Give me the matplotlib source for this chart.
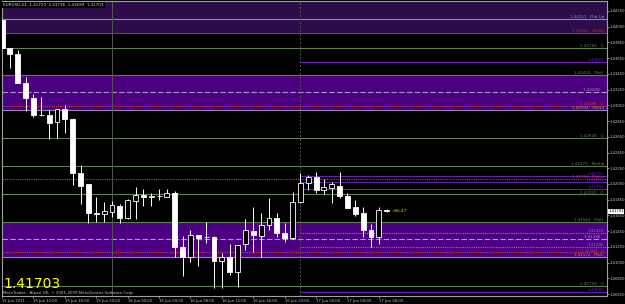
import numpy as np
import matplotlib
matplotlib.use('Agg')
import matplotlib.pyplot as plt

# EURUSD H1 candles, bar 0 = 15 Jun 08:00
opens  = [1.44135, 1.43779, 1.43703, 1.43332, 1.43139, 1.42931, 1.42927, 1.42834, 1.43000, 1.42876,
          1.42185, 1.42046, 1.41684, 1.41668, 1.41697, 1.41773, 1.41613, 1.41837, 1.41906, 1.41880,
          1.41897, 1.41888, 1.41931, 1.41252, 1.41124, 1.41397, 1.41372, 1.41372, 1.41074, 1.41117,
          1.40934, 1.41286, 1.41448, 1.41392, 1.41524, 1.41617, 1.41422, 1.41358, 1.41816, 1.42058,
          1.42134, 1.41973, 1.42003, 1.42024, 1.41901, 1.41753, 1.41676, 1.41464, 1.41379, 1.41720]
highs  = [1.44173, 1.43785, 1.43754, 1.43410, 1.43194, 1.43156, 1.42991, 1.43000, 1.43054, 1.42890,
          1.42287, 1.42050, 1.41888, 1.41824, 1.41832, 1.41795, 1.41858, 1.42015, 1.41982, 1.41931,
          1.41986, 1.41986, 1.41964, 1.41388, 1.41464, 1.41400, 1.41570, 1.41388, 1.41168, 1.41282,
          1.41277, 1.41604, 1.41760, 1.41676, 1.41867, 1.41676, 1.41549, 1.41951, 1.42185, 1.42164,
          1.42198, 1.42109, 1.42074, 1.42198, 1.41939, 1.41846, 1.41753, 1.41541, 1.41753, 1.41736]
lows   = [1.43753, 1.43525, 1.43328, 1.42978, 1.42901, 1.42914, 1.42618, 1.42631, 1.42702, 1.42036,
          1.41795, 1.41549, 1.41566, 1.41570, 1.41629, 1.41553, 1.41604, 1.41600, 1.41769, 1.41769,
          1.41846, 1.41884, 1.41117, 1.40879, 1.41061, 1.41006, 1.41295, 1.40722, 1.40722, 1.40892,
          1.40735, 1.41210, 1.41188, 1.41117, 1.41464, 1.41372, 1.41315, 1.41350, 1.41810, 1.41973,
          1.41931, 1.41922, 1.41811, 1.41867, 1.41745, 1.41646, 1.41379, 1.41252, 1.41286, 1.41699]
closes = [1.43779, 1.43699, 1.43332, 1.43139, 1.42931, 1.42928, 1.42829, 1.43000, 1.42876, 1.42185,
          1.42028, 1.41676, 1.41668, 1.41706, 1.41782, 1.41613, 1.41846, 1.41906, 1.41880, 1.41897,
          1.41897, 1.41931, 1.41244, 1.41124, 1.41397, 1.41362, 1.41372, 1.41070, 1.41117, 1.40934,
          1.41277, 1.41464, 1.41397, 1.41524, 1.41617, 1.41422, 1.41358, 1.41824, 1.42058, 1.42134,
          1.41973, 1.42007, 1.42045, 1.41901, 1.41748, 1.41668, 1.41464, 1.41379, 1.41719, 1.41703]

tick_bars = [0, 4, 8, 12, 16, 20, 24, 28, 32, 36, 40, 44, 48]
tick_labels = ['15 Jun 2011', '15 Jun 12:00', '15 Jun 16:00', '15 Jun 20:00', '16 Jun 00:00',
               '16 Jun 04:00', '16 Jun 08:00', '16 Jun 12:00', '16 Jun 16:00', '16 Jun 20:00',
               '17 Jun 00:00', '17 Jun 04:00', '17 Jun 08:00']
price_ticks = [1.40650 + 0.002 * k for k in range(19)]

# pivot levels across the whole chart
full_prices = [1.44151, 1.43967, 1.43782, 1.43435, 1.43220, 1.43046, 1.42994, 1.42638, 1.42279,
               1.42114, 1.41920, 1.41564, 1.41346, 1.41184, 1.41122, 1.40758]
full_names = ['Mid Up', 'MidLo', 'Q', 'MidL', '', 'Q', 'MidLo', 'Q', 'MidUp',
              'MidLo', 'Q', 'MidL', '', 'Q', 'MidL', 'Q']
full_kinds = ['mid', 'res', 'q', 'q', 'center', 'sup', 'mid', 'q', 'q',
              'sup', 'q', 'q', 'center', 'sup', 'mid', 'q']
# today's levels, drawn from the 22:00 separator
today_prices = [1.43602, 1.42155, 1.42081, 1.41992, 1.41423, 1.41246, 1.40680]
today_kinds = ['pp', 'pp', 'pp', 'pp', 'inner', 'inner', 'pp']

zone_low = 1.43967
bands = [(1.42994, 1.43435), (1.41122, 1.41564)]
separators = [14, 38]
last_price = 1.41703
timer_text = '<56:47'

styles = {
    'mid':    dict(color='#8c8cae', ls='-'),
    'res':    dict(color='#b42814', ls='-'),
    'q':      dict(color='#5f7d58', ls='-'),
    'center': dict(color='#a898c8', ls=(0, (5, 2))),
    'sup':    dict(color='#d2401e', ls=(0, (1, 1))),
    'pp':     dict(color='#6420b4', ls='-'),
    'inner':  dict(color='#9a64dc', ls=(0, (1, 1))),
}

fig = plt.figure(figsize=(6.25, 3.04), dpi=100, facecolor='black')
ax = fig.add_axes([2/625, 8/304, 605/625, 295/304], facecolor='black')
ax.set_xlim(-0.01, 77.06)
ax.set_ylim(1.40625, 1.44377)

# zones
ax.axhspan(zone_low, 1.44377, facecolor='#2c0c4a', lw=0, zorder=0)
for lo, hi in bands:
    ax.axhspan(lo, hi, facecolor='#4b0082', lw=0, zorder=0)

trans = ax.get_yaxis_transform()
for p, name, kind in zip(full_prices, full_names, full_kinds):
    st = styles[kind]
    ax.axhline(p, color=st['color'], ls=st['ls'], lw=0.8, zorder=1)
    ax.text(0.995, p, f'{p:.5f}   {name}', transform=trans, ha='right', va='bottom',
            fontsize=3, color=st['color'], zorder=4)
for p, kind in zip(today_prices, today_kinds):
    st = styles[kind]
    ax.hlines(p, separators[1], 77.06, color=st['color'], ls=st['ls'], lw=0.8, zorder=1)
    ax.text(0.995, p, f'{p:.5f}', transform=trans, ha='right', va='bottom',
            fontsize=3, color=st['color'], zorder=4)

ax.axvline(separators[0], color='#555555', lw=0.7, zorder=1)
ax.axvline(separators[1], color='#555555', lw=0.7, ls=(0, (2, 2)), zorder=1)

# candles
x = np.arange(len(opens))
o = np.array(opens); c = np.array(closes)
bull = c >= o
ax.vlines(x, lows, highs, color='white', lw=0.7, zorder=2)
ax.bar(x, np.abs(c - o), bottom=np.minimum(o, c), width=0.62,
       color=np.where(bull, 'black', 'white'), edgecolor='white', lw=0.6, zorder=3)

ax.text(x[-1] + 0.6, last_price, timer_text, fontsize=3, color='#e0e000', va='center', zorder=4)

# axes styling
for s in ax.spines.values():
    s.set_color('#a0a0a0')
    s.set_linewidth(0.8)
ax.yaxis.tick_right()
ax.set_yticks(price_ticks)
ax.set_yticklabels([f'{p:.5f}' for p in price_ticks])
ax.set_xticks(tick_bars)
ax.set_xticklabels(tick_labels, ha='left')
ax.tick_params(axis='both', colors='#a0a0a0', labelcolor='#c8c8c8', labelsize=2.7,
               length=1.6, width=0.6, pad=0.4)

ax.text(1.002, last_price, f'{last_price:.5f}', transform=trans, fontsize=2.7, color='black',
        va='center', ha='left', bbox=dict(facecolor='white', edgecolor='none', pad=0.4),
        clip_on=False, zorder=5)

ax.text(0.002, 0.994, 'EURUSD,H1  1.41720  1.41736  1.41699  1.41703', transform=ax.transAxes,
        fontsize=3, color='#d0d0d0', va='top', ha='left',
        bbox=dict(facecolor='black', edgecolor='none', pad=0.8), zorder=5)
ax.text(0.0017, 0.026, f'{last_price:.5f}', transform=ax.transAxes, fontsize=10,
        color='#ffff00', va='baseline', ha='left', zorder=5)
ax.text(0.002, 0.011, 'MetaTrader - Alpari UK, \u00a9 2001-2009 MetaQuotes Software Corp.',
        transform=ax.transAxes, fontsize=2.9, color='#c0c0c0', va='center', ha='left', zorder=5)

plt.savefig('out.png', dpi=100, facecolor='black')
